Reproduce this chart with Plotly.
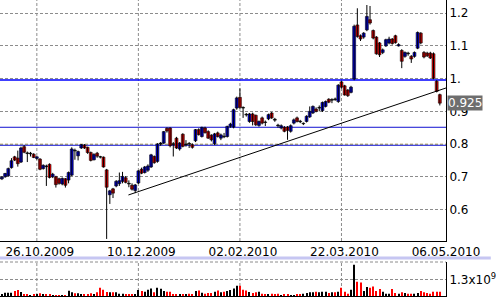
import plotly.graph_objects as go

# ---- data ----
opens = [0.696,0.694,0.700,0.703,0.728,0.761,0.757,0.745,0.792,0.773,
         0.770,0.769,0.756,0.754,0.725,0.733,0.738,0.700,0.700,0.694,
         0.678,0.694,0.690,0.705,0.781,0.764,0.788,0.797,0.790,0.774,
         0.752,0.772,0.761,0.760,0.721,0.645,0.663,0.672,0.679,0.686,
         0.697,0.680,0.674,0.658,0.681,0.723,0.713,0.720,0.730,0.762,
         0.747,0.800,0.803,0.848,0.849,0.801,0.818,0.785,0.830,0.798,
         0.802,0.798,0.810,0.844,0.823,0.849,0.838,0.827,0.801,0.834,
         0.818,0.824,0.823,0.854,0.852,0.910,0.943,0.912,0.891,0.869,
         0.892,0.888,0.857,0.880,0.867,0.877,0.895,0.876,0.858,0.849,
         0.851,0.852,0.839,0.864,0.880,0.870,0.862,0.869,0.883,0.895,
         0.907,0.910,0.902,0.915,0.937,0.934,0.938,0.930,0.990,0.978,
         0.965,0.958,0.999,1.164,1.131,1.127,1.149,1.180,1.147,1.127,
         1.109,1.080,1.100,1.109,1.121,1.131,1.100,1.086,1.068,1.078,
         1.068,1.068,1.093,1.139,1.080,1.078,1.078,1.076,0.992,0.951]
highs = [0.700,0.702,0.712,0.728,0.757,0.764,0.780,0.792,0.797,0.777,
         0.776,0.772,0.763,0.757,0.738,0.737,0.741,0.712,0.703,0.697,
         0.698,0.696,0.716,0.790,0.786,0.780,0.800,0.800,0.792,0.777,
         0.772,0.776,0.764,0.762,0.724,0.660,0.666,0.690,0.713,0.715,
         0.702,0.689,0.680,0.678,0.720,0.728,0.733,0.738,0.770,0.765,
         0.803,0.806,0.840,0.851,0.851,0.806,0.822,0.806,0.833,0.812,
         0.806,0.802,0.846,0.848,0.853,0.853,0.842,0.830,0.834,0.838,
         0.832,0.834,0.856,0.865,0.908,0.945,0.970,0.915,0.895,0.895,
         0.896,0.890,0.872,0.884,0.872,0.893,0.898,0.880,0.862,0.860,
         0.855,0.855,0.860,0.878,0.884,0.874,0.866,0.888,0.915,0.918,
         0.912,0.918,0.930,0.933,0.940,0.940,0.942,0.983,0.993,0.981,
         0.968,0.978,1.165,1.215,1.135,1.142,1.225,1.222,1.150,1.130,
         1.112,1.092,1.122,1.128,1.124,1.134,1.108,1.090,1.083,1.082,
         1.072,1.083,1.144,1.142,1.084,1.082,1.082,1.080,0.995,0.954]
lows = [0.688,0.690,0.697,0.700,0.725,0.748,0.731,0.742,0.772,0.745,
        0.762,0.757,0.752,0.720,0.722,0.672,0.695,0.696,0.667,0.676,
        0.674,0.667,0.680,0.702,0.752,0.750,0.785,0.785,0.770,0.747,
        0.750,0.758,0.756,0.728,0.510,0.617,0.635,0.668,0.672,0.680,
        0.680,0.668,0.658,0.650,0.678,0.708,0.710,0.715,0.727,0.740,
        0.743,0.795,0.800,0.835,0.790,0.762,0.785,0.780,0.790,0.792,
        0.788,0.786,0.806,0.826,0.820,0.832,0.816,0.808,0.797,0.820,
        0.812,0.818,0.820,0.850,0.848,0.905,0.908,0.880,0.884,0.865,
        0.857,0.855,0.853,0.860,0.855,0.873,0.877,0.868,0.850,0.845,
        0.836,0.813,0.835,0.860,0.866,0.864,0.858,0.866,0.880,0.892,
        0.897,0.900,0.898,0.912,0.925,0.925,0.932,0.926,0.970,0.948,
        0.944,0.955,0.995,1.125,1.115,1.122,1.145,1.165,1.120,1.073,
        1.066,1.075,1.097,1.105,1.104,1.107,1.098,1.032,1.064,1.070,
        1.048,1.064,1.090,1.105,1.062,1.066,1.060,0.998,0.958,0.918]
closes = [0.693,0.699,0.710,0.725,0.749,0.751,0.740,0.788,0.775,0.771,
          0.772,0.759,0.761,0.723,0.735,0.731,0.698,0.708,0.676,0.680,
          0.695,0.674,0.713,0.785,0.779,0.777,0.798,0.788,0.774,0.750,
          0.768,0.763,0.760,0.730,0.668,0.657,0.650,0.686,0.688,0.701,
          0.683,0.678,0.662,0.675,0.718,0.711,0.730,0.733,0.767,0.743,
          0.800,0.803,0.838,0.840,0.795,0.799,0.788,0.803,0.793,0.800,
          0.800,0.790,0.844,0.829,0.851,0.835,0.818,0.813,0.831,0.823,
          0.828,0.822,0.854,0.861,0.905,0.941,0.912,0.910,0.889,0.892,
          0.869,0.859,0.869,0.864,0.866,0.890,0.880,0.873,0.856,0.856,
          0.839,0.842,0.856,0.874,0.869,0.868,0.863,0.885,0.900,0.915,
          0.900,0.912,0.927,0.930,0.928,0.936,0.936,0.980,0.974,0.950,
          0.948,0.974,1.160,1.129,1.121,1.139,1.190,1.170,1.124,1.076,
          1.073,1.088,1.119,1.121,1.107,1.110,1.104,1.053,1.080,1.076,
          1.060,1.080,1.141,1.109,1.066,1.070,1.063,1.001,0.961,0.925]
# volume, millions of shares
volume_mln = [130,130,260,260,260,390,468,312,156,104,
              78,130,104,208,130,156,130,78,78,78,
              78,78,416,286,208,208,104,130,130,208,
              130,286,650,494,312,286,286,286,182,182,
              130,130,104,130,468,390,338,494,598,286,
              650,572,390,338,338,104,130,130,130,130,
              182,130,390,442,260,182,234,234,338,442,
              286,338,390,468,598,806,806,494,442,312,
              234,286,338,182,130,104,182,130,182,78,
              130,130,78,78,130,130,182,234,286,286,
              338,286,338,338,234,286,286,338,650,338,
              182,494,2470,1118,1066,390,702,650,754,390,
              546,338,182,182,546,234,182,286,234,182,
              182,182,234,390,286,234,182,338,338,338]

tick_idx = [12, 44, 76, 108, 140]
tick_labels = ["26.10.2009", "10.12.2009", "02.02.2010", "22.03.2010", "06.05.2010"]
price_ticks = [0.6, 0.7, 0.8, 0.9, 1.0, 1.1, 1.2]
price_tick_text = ["0.6", "0.7", "0.8", "0.9", "1.", "1.1", "1.2"]
level_lines = [0.9958, 0.8513, 0.7963]
level_colors = ["#0000ff", "#1010d0", "#1010d0"]
level_widths = [1.5, 1, 1]
trend_x = [40.86, 140.94]
trend_y = [0.6444, 0.9714]
last_price = 0.925
vol_tick = [1300]
vol_tick_text = ["1.3x10<sup>9</sup>"]

x = list(range(len(closes)))
FONT = dict(family="DejaVu Sans", size=12, color="black")
GRID = "#8c8c8c"
DASH = "3px,2px"
XR = [0.39, 140.94]
YR = [0.5037, 1.2403]
VR = [0, 2680]
MAIN_BOTTOM = (296 - 241) / 296
VOL_TOP = 34 / 296

shapes = []
for t in tick_idx[:-1]:
    shapes.append(dict(type="line", xref="x", yref="paper", x0=t, x1=t,
                       y0=MAIN_BOTTOM, y1=1, layer="below",
                       line=dict(color=GRID, width=1, dash=DASH)))
    shapes.append(dict(type="line", xref="x2", yref="paper", x0=t, x1=t,
                       y0=0, y1=VOL_TOP, layer="below",
                       line=dict(color=GRID, width=1, dash=DASH)))
for lv in (1.0, 0.8):
    shapes.append(dict(type="line", xref="paper", yref="y", x0=0, x1=1, y0=lv, y1=lv,
                       layer="below", line=dict(color="#c8b478", width=1, dash=DASH)))
for lv, lc, lw in zip(level_lines, level_colors, level_widths):
    shapes.append(dict(type="line", xref="paper", yref="y", x0=0, x1=1, y0=lv, y1=lv,
                       layer="below", line=dict(color=lc, width=lw)))
shapes.append(dict(type="line", xref="paper", yref="paper", x0=0, x1=1,
                   y0=VOL_TOP, y1=VOL_TOP, layer="below",
                   line=dict(color=GRID, width=1, dash=DASH)))
shapes.append(dict(type="line", xref="paper", yref="paper", x0=0, x1=493/448,
                   y0=(296-258)/296, y1=(296-258)/296,
                   line=dict(color="#c6c6f2", width=3)))

fig = go.Figure()
# wicks
wx, wy = [], []
for i, lo, hi in zip(x, lows, highs):
    wx += [i, i, None]
    wy += [lo, hi, None]
fig.add_trace(go.Scatter(x=wx, y=wy, mode="lines", xaxis="x", yaxis="y",
                         line=dict(color="black", width=1), hoverinfo="skip",
                         showlegend=False))
# bodies
body_base = [min(o, c) for o, c in zip(opens, closes)]
body_h = [max(abs(c - o), 0.0015) for o, c in zip(opens, closes)]
body_col = []
for o, c in zip(opens, closes):
    if abs(c - o) < 0.0035:
        body_col.append("black")
    elif c > o:
        body_col.append("#0000ff")
    else:
        body_col.append("#ff0000")
fig.add_trace(go.Bar(x=x, y=body_h, base=body_base, xaxis="x", yaxis="y", width=0.92,
                     marker=dict(color=body_col, line=dict(color="black", width=0.6)),
                     hoverinfo="skip", showlegend=False))
fig.add_trace(go.Scatter(x=trend_x, y=trend_y, mode="lines", xaxis="x", yaxis="y",
                         line=dict(color="black", width=1), hoverinfo="skip",
                         showlegend=False))
vcolors = ["black" if c >= o else "#ff0000" for o, c in zip(opens, closes)]
fig.add_trace(go.Bar(x=x, y=volume_mln, xaxis="x2", yaxis="y2", width=0.32,
                     marker=dict(color=vcolors, line=dict(width=0)),
                     hoverinfo="skip", showlegend=False))

fig.update_layout(
    width=496, height=300, margin=dict(l=0, r=48, t=0, b=4),
    paper_bgcolor="white", plot_bgcolor="white", showlegend=False,
    barmode="overlay", font=FONT, shapes=shapes,
    xaxis=dict(domain=[0, 1], range=XR, anchor="y", tickmode="array",
               tickvals=tick_idx, ticktext=tick_labels, showgrid=False, zeroline=False,
               showline=True, linecolor="black", linewidth=1, ticks="",
               ticklabelshift=3, tickfont=FONT),
    yaxis=dict(domain=[MAIN_BOTTOM, 1], range=YR, anchor="x", side="right",
               tickmode="array", tickvals=price_ticks, ticktext=price_tick_text,
               showgrid=True, gridcolor=GRID, griddash=DASH, gridwidth=1, zeroline=False,
               showline=True, linecolor="black", linewidth=1, ticks="", tickfont=FONT),
    xaxis2=dict(domain=[0, 1], range=XR, anchor="y2", showticklabels=False, showgrid=False,
                zeroline=False, showline=True, linecolor="black", linewidth=1, ticks=""),
    yaxis2=dict(domain=[0, VOL_TOP], range=VR, anchor="x2", side="right",
                tickmode="array", tickvals=vol_tick, ticktext=vol_tick_text,
                showgrid=True, gridcolor=GRID, griddash=DASH, zeroline=False,
                showline=True, linecolor="black", linewidth=1, ticks="", tickfont=FONT),
    annotations=[dict(x=1, xref="paper", y=last_price, yref="y", xanchor="left", xshift=1,
                      text=f"{last_price:.3f}", showarrow=False, bgcolor="#6e6e6e",
                      borderpad=0, font=dict(family="DejaVu Sans", size=12, color="white"))],
)

fig.write_html("out.html")
